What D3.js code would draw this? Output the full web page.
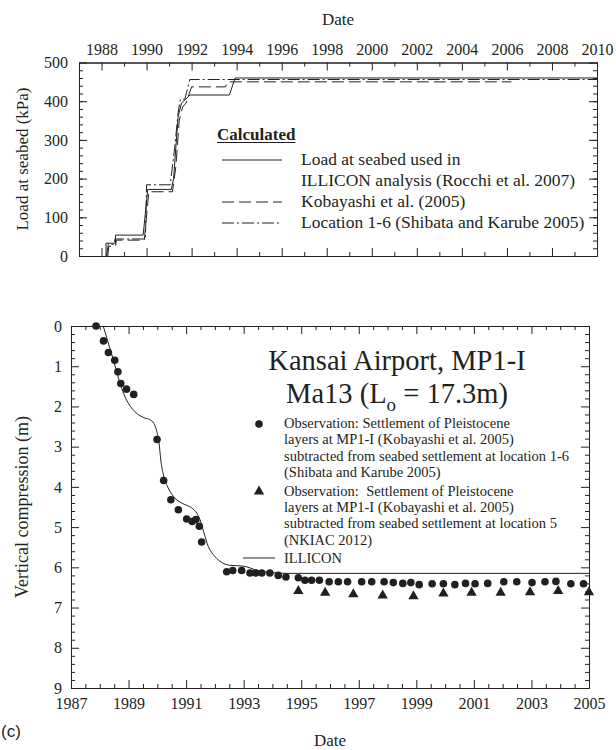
<!DOCTYPE html>
<html lang="en">
<head>
<meta charset="UTF-8">
<title>Kansai Airport MP1-I, Ma13</title>
<script src="https://cdn.jsdelivr.net/npm/d3@7"></script>
<style>
  body { margin: 0; background: #fff; }
  svg text { font-family: "Liberation Serif", "Times New Roman", serif; fill: #231f20; white-space: pre; }
</style>
</head>
<body>
<svg id="fig" xmlns="http://www.w3.org/2000/svg" width="616" height="750" font-family="Liberation Serif"></svg>
<script>
// ---- top panel: load at seabed (kPa), step histories
const illiconLoadYears = [1988.2, 1988.2, 1988.62, 1988.62, 1989.85, 1990.05, 1991.1, 1991.2, 1991.4, 1991.55, 1991.93, 1993.68, 1993.93, 2010];
const illiconLoad      = [0, 33, 33, 54, 54, 172, 172, 200, 360, 395, 416, 416, 460, 460];
const kobayashiYears   = [1988.28, 1988.32, 1988.62, 1988.66, 1989.9, 1990.1, 1991.15, 1991.3, 1991.45, 1991.6, 1991.75, 1992.0, 1993.5, 1993.62, 2006.2];
const kobayashiLoad    = [0, 25, 25, 41, 41, 166, 166, 230, 350, 385, 395, 437, 437, 450, 450];
const loc16Years       = [1988.22, 1988.3, 1988.55, 1988.6, 1989.95, 1990.0, 1991.05, 1991.25, 1991.4, 1991.5, 1991.7, 1991.92, 2010];
const loc16Load        = [0, 30, 30, 44, 44, 184, 184, 280, 370, 405, 405, 456, 456];
const topYearTicks     = [1988, 1990, 1992, 1994, 1996, 1998, 2000, 2002, 2004, 2006, 2008, 2010];
const topLoadTicks     = [0, 100, 200, 300, 400, 500];

// ---- bottom panel: vertical compression (m)
const obs16Years = [1987.87, 1988.13, 1988.30, 1988.52, 1988.63, 1988.73, 1988.93, 1989.18, 1989.99, 1990.22, 1990.47, 1990.73, 1991.02, 1991.21, 1991.34, 1991.46, 1991.54,
  1992.41, 1992.62, 1992.93, 1993.22, 1993.42, 1993.63, 1993.91, 1994.20, 1994.47, 1994.90, 1995.13, 1995.36, 1995.63, 1995.97, 1996.29, 1996.61, 1997.10, 1997.45, 1997.88, 1998.20,
  1998.53, 1998.81, 1999.10, 1999.55, 1999.94, 2000.34, 2000.71, 2001.04, 2001.48, 2002.04, 2002.49, 2003.02, 2003.47, 2003.85, 2004.37, 2004.81];
const obs16Comp  = [0.0, 0.37, 0.66, 0.85, 1.14, 1.43, 1.57, 1.70, 2.82, 3.84, 4.32, 4.57, 4.80, 4.86, 4.81, 4.98, 5.37,
  6.11, 6.08, 6.08, 6.14, 6.14, 6.14, 6.14, 6.20, 6.24, 6.26, 6.32, 6.32, 6.32, 6.36, 6.36, 6.36, 6.36, 6.36, 6.36, 6.38,
  6.40, 6.38, 6.43, 6.41, 6.41, 6.43, 6.40, 6.41, 6.40, 6.36, 6.36, 6.38, 6.36, 6.35, 6.41, 6.41];
const obs5Years  = [1994.90, 1995.83, 1996.81, 1997.83, 1998.90, 1999.94, 2000.92, 2001.93, 2002.95, 2003.93, 2005.0];
const obs5Comp   = [6.59, 6.63, 6.67, 6.70, 6.72, 6.65, 6.63, 6.63, 6.62, 6.59, 6.62];
const illiconYears = [1988.12, 1988.47, 1988.76, 1988.93, 1989.22, 1989.57, 1989.74, 1989.88, 1989.98, 1990.06, 1990.12, 1990.21, 1990.38, 1990.61, 1990.90, 1991.19, 1991.37, 1991.48, 1991.62, 1991.77, 1991.94, 1992.18, 1992.52, 1992.99, 1993.5, 1994.5, 2005];
const illiconComp  = [0, 0.84, 1.55, 1.84, 2.13, 2.29, 2.33, 2.42, 2.62, 2.91, 3.33, 3.70, 4.03, 4.28, 4.42, 4.52, 4.65, 4.81, 5.14, 5.48, 5.68, 5.85, 5.95, 5.97, 6.08, 6.15, 6.15];
const botYearTicks = [1987, 1989, 1991, 1993, 1995, 1997, 1999, 2001, 2003, 2005];
const botCompTicks = [0, 1, 2, 3, 4, 5, 6, 7, 8, 9];

const ink = "#231f20";
const serif = "'Liberation Serif', 'Times New Roman', serif";
const svg = d3.select("#fig");

function axisPart(axis, tx, ty, vals, size, pad, withLabels) {
  const g = svg.append("g").attr("transform", `translate(${tx},${ty})`)
    .call(axis.tickValues(vals).tickSize(size).tickSizeOuter(0).tickPadding(pad)
      .tickFormat(withLabels ? d3.format("d") : ""));
  g.attr("font-size", 16).attr("font-family", "Liberation Serif");
  g.select(".domain").attr("stroke", ink).attr("stroke-width", 1);
  g.selectAll(".tick line").attr("stroke", ink).attr("stroke-width", 1);
  return g;
}

function frame(x, y, xMaj, xMin, yMaj, yMin, xLabelsOnTop, xPad, yPad) {
  const [l, r] = x.range();
  const t = d3.min(y.range()), b = d3.max(y.range());
  axisPart(d3.axisTop(x), 0, t, xMaj, -8, xPad, xLabelsOnTop);
  axisPart(d3.axisTop(x), 0, t, xMin, -4, 0, false);
  axisPart(d3.axisBottom(x), 0, b, xMaj, -8, xPad, !xLabelsOnTop);
  axisPart(d3.axisBottom(x), 0, b, xMin, -4, 0, false);
  axisPart(d3.axisLeft(y), l, 0, yMaj, -8, yPad, true);
  axisPart(d3.axisLeft(y), l, 0, yMin, -4, 0, false);
  axisPart(d3.axisRight(y), r, 0, yMaj, -8, 0, false);
  axisPart(d3.axisRight(y), r, 0, yMin, -4, 0, false);
}

// ================= top panel
const xTop = d3.scaleLinear().domain([1987, 2010]).range([79, 597]);
const yTop = d3.scaleLinear().domain([0, 500]).range([256, 62.5]);
frame(xTop, yTop, topYearTicks, d3.range(1987, 2010, 2), topLoadTicks, d3.range(20, 500, 20), true, 8, 11);

const stepLine = d3.line().x(d => xTop(d[0])).y(d => yTop(d[1]));
const topSeries = [
  { yrs: illiconLoadYears, vals: illiconLoad, dash: null },
  { yrs: kobayashiYears, vals: kobayashiLoad, dash: "12,5" },
  { yrs: loc16Years, vals: loc16Load, dash: "12,3,2,3" }
];
topSeries.forEach(s => {
  svg.append("path")
    .datum(s.yrs.map((v, i) => [v, s.vals[i]]))
    .attr("d", stepLine)
    .attr("fill", "none").attr("stroke", ink).attr("stroke-width", 1)
    .attr("stroke-dasharray", s.dash);
});

svg.append("text").attr("x", 338).attr("y", 25).attr("text-anchor", "middle").attr("font-size", 17).text("Date");
svg.append("text").attr("transform", "translate(22,159) rotate(-90)").attr("text-anchor", "middle")
  .attr("dy", "0.35em").attr("font-size", 17).text("Load at seabed (kPa)");

// legend (top)
const calc = svg.append("text").attr("x", 217).attr("y", 140).attr("font-size", 17).attr("font-weight", "bold").text("Calculated");
const cw = calc.node().getComputedTextLength();
svg.append("line").attr("x1", 217).attr("x2", 217 + cw).attr("y1", 142.5).attr("y2", 142.5).attr("stroke", ink).attr("stroke-width", 1.2);
const topLegend = [
  { y: 160, dash: null, lines: [["Load at seabed used in", 165], ["ILLICON analysis (Rocchi et al. 2007)", 186]] },
  { y: 202, dash: "12,5", lines: [["Kobayashi et al. (2005)", 207]] },
  { y: 223, dash: "12,3,2,3", lines: [["Location 1-6 (Shibata and Karube 2005)", 228]] }
];
topLegend.forEach(e => {
  svg.append("line").attr("x1", 222).attr("x2", 282).attr("y1", e.y).attr("y2", e.y)
    .attr("stroke", ink).attr("stroke-width", 1).attr("stroke-dasharray", e.dash);
  e.lines.forEach(([t, yy]) => svg.append("text").attr("x", 301).attr("y", yy).attr("font-size", 17.5).text(t));
});

// ================= bottom panel
const xBot = d3.scaleLinear().domain([1987, 2005]).range([71, 589]);
const yBot = d3.scaleLinear().domain([0, 9]).range([326, 688]);
frame(xBot, yBot, botYearTicks, d3.range(1987.5, 2005, 0.5).filter(v => (v - 1987) % 2 !== 0),
  botCompTicks, d3.range(0.2, 9, 0.2).filter(v => Math.abs(v - Math.round(v)) > 0.01), false, 9.5, 9);

svg.append("path")
  .datum(illiconYears.map((v, i) => [v, illiconComp[i]]))
  .attr("d", d3.line().x(d => xBot(d[0])).y(d => yBot(d[1])).curve(d3.curveMonotoneX))
  .attr("fill", "none").attr("stroke", ink).attr("stroke-width", 1);

svg.append("g").selectAll("circle")
  .data(obs16Years.map((v, i) => [v, obs16Comp[i]]))
  .join("circle")
  .attr("cx", d => xBot(d[0])).attr("cy", d => yBot(d[1])).attr("r", 3.8).attr("fill", ink);

const tri = d3.symbol().type(d3.symbolTriangle).size(46);
svg.append("g").selectAll("path")
  .data(obs5Years.map((v, i) => [v, obs5Comp[i]]))
  .join("path")
  .attr("transform", d => `translate(${xBot(d[0])},${yBot(d[1])})`)
  .attr("d", tri).attr("fill", ink);

svg.append("text").attr("x", 397).attr("y", 370).attr("text-anchor", "middle").attr("font-size", 28.5).text("Kansai Airport, MP1-I");
const ma = svg.append("text").attr("x", 397).attr("y", 403).attr("text-anchor", "middle").attr("font-size", 28.5);
ma.append("tspan").text("Ma13 (L");
ma.append("tspan").attr("font-size", 19).attr("dy", 8).text("o");
ma.append("tspan").attr("dy", -8).text(" = 17.3m)");

// legend (bottom)
svg.append("circle").attr("cx", 259).attr("cy", 424).attr("r", 3.8).attr("fill", ink);
svg.append("path").attr("transform", "translate(259,491.5)").attr("d", tri).attr("fill", ink);
svg.append("line").attr("x1", 243).attr("x2", 275).attr("y1", 558).attr("y2", 558).attr("stroke", ink).attr("stroke-width", 1);
const botLegendText = [
  ["Observation: Settlement of Pleistocene", 428],
  ["layers at MP1-I (Kobayashi et al. 2005)", 444.3],
  ["subtracted from seabed settlement at location 1-6", 460.6],
  ["(Shibata and Karube 2005)", 476.9],
  ["Observation:  Settlement of Pleistocene", 496],
  ["layers at MP1-I (Kobayashi et al. 2005)", 512.2],
  ["subtracted from seabed settlement at location 5", 528.4],
  ["(NKIAC 2012)", 544.6],
  ["ILLICON", 563]
];
botLegendText.forEach(([t, yy]) => svg.append("text").attr("x", 284).attr("y", yy).attr("font-size", 14.5).text(t));

svg.append("text").attr("transform", "translate(22,507) rotate(-90)").attr("text-anchor", "middle")
  .attr("dy", "0.35em").attr("font-size", 18).text("Vertical compression (m)");
svg.append("text").attr("x", 330).attr("y", 746).attr("text-anchor", "middle").attr("font-size", 17).text("Date");

// every label in the figure is set in a Times-like serif
svg.selectAll("text").style("font-family", serif);

svg.append("text").attr("x", 1).attr("y", 737).attr("font-size", 17)
  .style("font-family", "'Liberation Sans', Arial, sans-serif").text("(c)");
</script>
</body>
</html>
